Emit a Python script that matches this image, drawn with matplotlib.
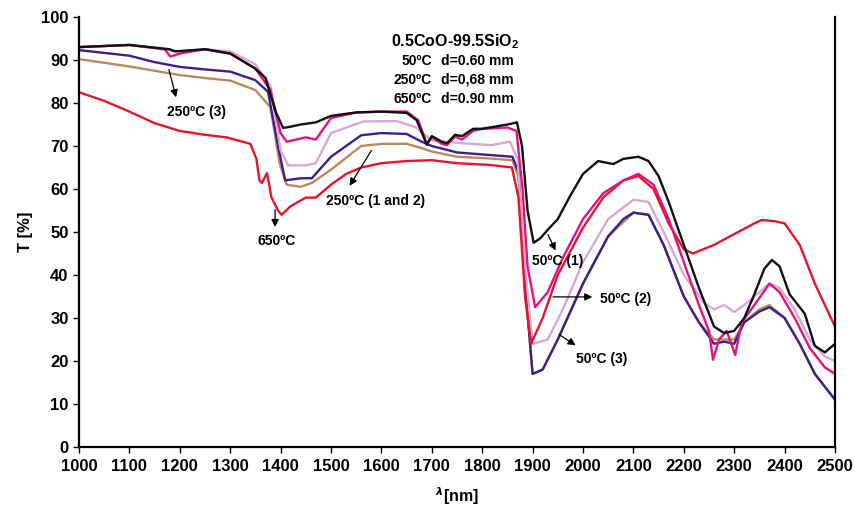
import numpy as np
from matplotlib import pyplot as plt

# sample 50C (1) - black
wl_black = [1000,1100,1180,1190,1250,1300,1350,1370,1390,1405,1420,1440,1470,1500,1550,1600,1650,1670,1690,1700,1720,1730,1746,1760,1782,1800,1855,1869,1879,1890,1902,1915,1930,1950,1975,2000,2030,2060,2080,2110,2130,2150,2170,2200,2230,2260,2280,2300,2320,2340,2360,2375,2390,2410,2440,2460,2480,2500]
T_black = [93,93.5,92.5,92,92.5,91.5,88,85.8,78,74.2,74.5,75,75.5,77,77.8,78,77.7,76,70.3,72.3,71,70.6,72.6,72.3,74,74,75.1,75.5,70,55,47.5,48.5,50.5,53,58.5,63.5,66.5,65.8,67,67.5,66.5,63,57,47,37,28,26.5,27,30,35.5,41.5,43.5,42,35.5,31,23.5,22,24]

# sample 50C (2) - magenta
wl_mag = [1000,1100,1170,1181,1200,1250,1300,1350,1380,1400,1412,1450,1470,1500,1550,1600,1650,1673,1690,1700,1720,1730,1746,1760,1782,1800,1850,1868,1880,1890,1905,1930,1960,2000,2040,2080,2110,2140,2170,2200,2230,2250,2258,2270,2285,2302,2315,2340,2370,2390,2420,2450,2480,2500]
T_mag = [93,93.5,92.5,90.8,91.5,92.5,91.5,88,83,73,71,72,71.5,76.5,77.8,78,78,76,70.5,72,70.5,70.2,72.2,71.5,73.5,74,74.3,73.5,60,42,32.5,36,44,53,59,62,63.5,61,53,43,33,27,20.3,25,27,21.4,29,33,38,36,30,23,18.5,17]

# sample 50C (3) - lilac
wl_lil = [1000,1100,1200,1250,1300,1350,1380,1400,1415,1450,1470,1500,1564,1630,1668,1700,1766,1818,1855,1870,1885,1900,1930,1960,2000,2050,2100,2130,2160,2200,2240,2260,2280,2300,2320,2350,2370,2390,2420,2450,2480,2500]
T_lil = [93,93.5,92,92.5,92,89,84,69,65.5,65.5,66,73,75.7,75.8,74.4,71.3,70.6,70.2,71,67,42,24,25,32,43,53,57.5,57,50,40,33.5,32,33,31.4,33,36,38,37,32,25,21,20]

# sample 250C (3) - purple
wl_pur = [1000,1100,1150,1200,1250,1300,1350,1375,1395,1409,1440,1462,1500,1560,1600,1650,1680,1700,1750,1815,1860,1872,1885,1900,1920,1950,2000,2050,2080,2100,2130,2160,2200,2230,2260,2280,2300,2320,2350,2370,2400,2430,2460,2500]
T_pur = [92.3,91,89.5,88.4,87.8,87.3,85.3,82.6,70,62,62.5,62.5,67.5,72.5,73,72.8,71,70,68.5,67.9,67.5,64,38,17,18,25,38,49,53,54.5,54,47,35,29,24,24.5,24,29,31.5,32.5,30,24,17,11]

# sample 250C (1 and 2) - tan
wl_tan = [1000,1100,1200,1250,1300,1350,1380,1398,1412,1440,1462,1500,1560,1600,1650,1680,1700,1750,1815,1860,1872,1885,1900,1920,1950,2000,2050,2100,2130,2160,2200,2230,2260,2280,2300,2320,2350,2370,2400,2430,2460,2500]
T_tan = [90.2,88.5,86.5,85.8,85.2,83,79,66,61,60.5,61.4,64.5,70,70.5,70.5,69.5,68.7,67.5,67.1,66.7,63,38,17,18,25,38,49,54.5,54,47,35,29,25,25,25,29,32,33,30,24,17,11]

# sample 650C - red
wl_red = [1000,1050,1100,1150,1200,1250,1293,1340,1352,1358,1363,1373,1382,1395,1402,1420,1450,1470,1500,1530,1560,1600,1650,1700,1750,1815,1859,1872,1885,1897,1920,1950,2000,2040,2080,2110,2140,2170,2200,2218,2260,2300,2340,2355,2380,2400,2430,2460,2500]
T_red = [82.5,80.5,78,75.3,73.5,72.6,72,70.5,67,62,61.4,63.7,58,55,54,56,58,58,61,63.5,65,66,66.5,66.7,66,65.6,65,58,35,24,30,40,51,58,62,63,60,52,46,45,47,49.5,52,52.8,52.5,52,47,38,28]

series = [
    (wl_tan, T_tan, '#b98a60'),
    (wl_pur, T_pur, '#3b1f8c'),
    (wl_lil, T_lil, '#d8a8d2'),
    (wl_red, T_red, '#e5142c'),
    (wl_mag, T_mag, '#e2137c'),
    (wl_black, T_black, '#111111'),
]

xticks = list(range(1000, 2501, 100))
yticks = list(range(0, 101, 10))

fam = ['Liberation Sans Narrow', 'Liberation Sans', 'DejaVu Sans']
plt.rcParams['font.family'] = fam
plt.rcParams['font.weight'] = 'bold'
plt.rcParams['mathtext.fontset'] = 'custom'
plt.rcParams['mathtext.rm'] = 'Liberation Sans:bold'
plt.rcParams['mathtext.bf'] = 'Liberation Sans:bold'

fig = plt.figure(figsize=(8.55, 5.12), dpi=100)
ax = fig.add_axes([0.0924, 0.127, 0.8842, 0.8398])
for wl, T, c in series:
    ax.plot(wl, T, color=c, lw=1.7, solid_joinstyle='round', solid_capstyle='round')

ax.set_xlim(1000, 2500)
ax.set_ylim(0, 100)
ax.set_xticks(xticks)
ax.set_yticks(yticks)
ax.tick_params(direction='out', length=4, width=1, labelsize=12)
ax.tick_params(axis='x', pad=5)
for lab in ax.get_xticklabels() + ax.get_yticklabels():
    lab.set_fontweight('bold')
ax.spines['top'].set_visible(False)
for s in ['left', 'right', 'bottom']:
    ax.spines[s].set_linewidth(1.6)

ax.set_ylabel('T [%]', fontsize=12, fontweight='bold', labelpad=6)
ax.text(0.5, -0.115, r'$^{\lambda}$[nm]', transform=ax.transAxes, ha='center', va='center', fontsize=11.5, fontweight='bold')

ax.text(1746, 94.2, '0.5CoO-99.5SiO$_\\mathbf{2}$', ha='center', va='center', fontsize=11.5, fontweight='bold')
temps = ['50ºC', '250ºC', '650ºC']
thick = ['d=0.60 mm', 'd=0,68 mm', 'd=0.90 mm']
for i in range(3):
    ax.text(1700, 89.8 - 4.45*i, temps[i], ha='right', va='center', fontsize=10, fontweight='bold')
    ax.text(1718, 89.8 - 4.45*i, thick[i], ha='left', va='center', fontsize=10, fontweight='bold')

arrow = dict(arrowstyle='-|>', color='black', lw=0.9, mutation_scale=11)
def note(txt, xy, xytext, tpos):
    ax.annotate('', xy=xy, xytext=xytext, arrowprops=arrow)
    ax.text(tpos[0], tpos[1], txt, ha='center', va='center', fontsize=10, fontweight='bold')

note('250ºC (3)', (1194, 80.7), (1177, 88.4), (1234, 78))
note('650ºC', (1389, 50.5), (1389, 55.8), (1393, 47.9))
note('250ºC (1 and 2)', (1534, 60.2), (1583, 69.5), (1589, 57.2))
note('50ºC (1)', (1948, 45.1), (1928, 50), (1949, 43.3))
note('50ºC (2)', (2024, 34.9), (1935, 34.9), (2085, 34.4))
note('50ºC (3)', (1990, 23.3), (1948, 26.5), (2038, 20.5))

fig.savefig('out.png', dpi=100)
